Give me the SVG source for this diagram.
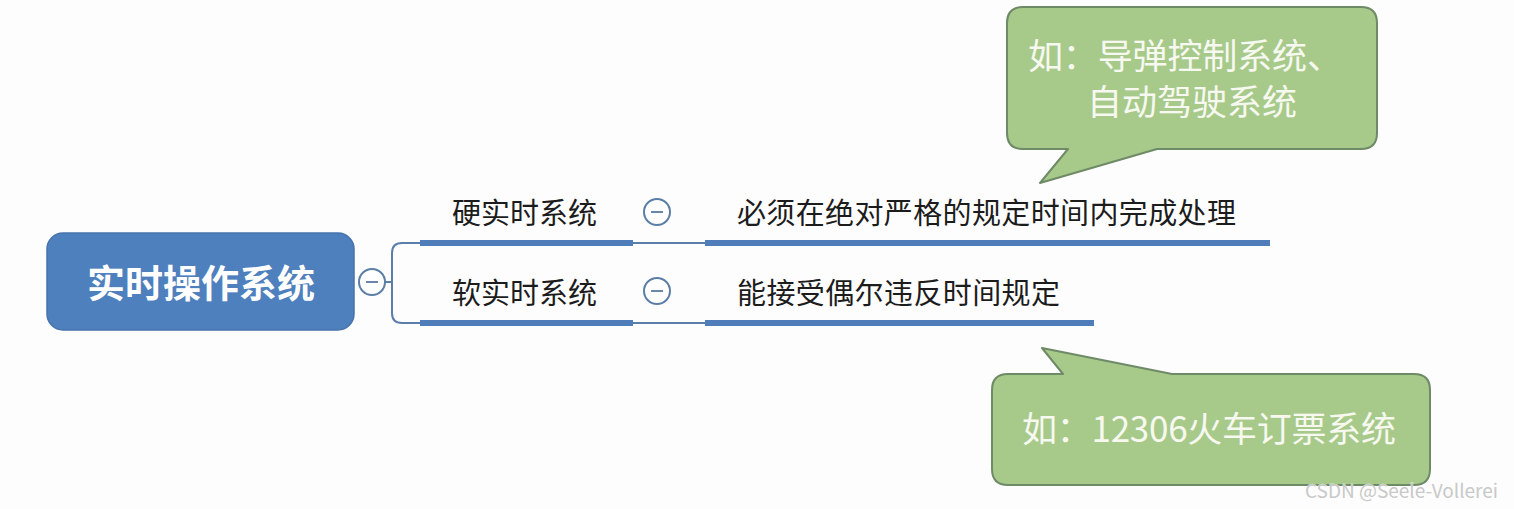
<svg xmlns="http://www.w3.org/2000/svg" width="1514" height="509" viewBox="0 0 1514 509">
<style>
.cjk{font-family:"Noto Sans CJK SC","Liberation Sans",sans-serif}
.branch{font-size:29px;fill:#1c1c1c}
.callout{fill:#A7CA8B;stroke:#6E8A66;stroke-width:2;stroke-linejoin:round}
.ctext{font-size:35px;fill:#F7F9F0}
.thick{stroke:#4F7DB9;stroke-width:6;fill:none}
.thin{stroke:#5A7DAA;stroke-width:2;fill:none}
.toggle circle{fill:#fff;stroke:#5B7EA6;stroke-width:2}
.toggle line{stroke:#6A86A8;stroke-width:2}
</style>
<rect width="1514" height="509" fill="#fdfdfd"/>
<g id="connectors">
<path class="thin" d="M385 282 H392 M392 282 V253 Q392 243 402 243 H420 M392 282 V313 Q392 323 402 323 H420"/>
<line class="thin" x1="633" y1="243" x2="705" y2="243"/>
<line class="thin" x1="633" y1="323" x2="705" y2="323"/>
</g>
<g id="root">
<rect x="47" y="233" width="307" height="97" rx="16" fill="#4F80BE" stroke="#4673AD" stroke-width="1.5"/>
<text class="cjk" x="201" y="297" text-anchor="middle" font-size="38" font-weight="bold" fill="#fff">实时操作系统</text>
<g class="toggle"><circle cx="372" cy="282" r="13"/><line x1="366" y1="282" x2="378" y2="282"/></g>
</g>
<g id="hard">
<text class="cjk branch" x="452" y="224">硬实时系统</text>
<line class="thick" x1="420" y1="243" x2="633" y2="243"/>
<g class="toggle"><circle cx="657" cy="212" r="13"/><line x1="651" y1="212" x2="663" y2="212"/></g>
</g>
<g id="hard-desc">
<text class="cjk branch" x="737" y="224" textLength="499" lengthAdjust="spacing">必须在绝对严格的规定时间内完成处理</text>
<line class="thick" x1="705" y1="243" x2="1270" y2="243"/>
</g>
<g id="soft">
<text class="cjk branch" x="452" y="304">软实时系统</text>
<line class="thick" x1="420" y1="323" x2="633" y2="323"/>
<g class="toggle"><circle cx="657" cy="291" r="13"/><line x1="651" y1="291" x2="663" y2="291"/></g>
</g>
<g id="soft-desc">
<text class="cjk branch" x="737" y="304" textLength="323" lengthAdjust="spacing">能接受偶尔违反时间规定</text>
<line class="thick" x1="705" y1="323" x2="1094" y2="323"/>
</g>
<g id="callout-hard">
<path class="callout" d="M1023 7 H1361 Q1377 7 1377 23 V133 Q1377 149 1361 149 H1157 L1040 183 L1068 149 H1023 Q1007 149 1007 133 V23 Q1007 7 1023 7 Z"/>
<text class="cjk ctext" x="1028" y="69" font-size="32" textLength="314" lengthAdjust="spacing">如：导弹控制系统、</text>
<text class="cjk ctext" x="1087" y="115" font-size="32" textLength="210" lengthAdjust="spacing">自动驾驶系统</text>
</g>
<g id="callout-soft">
<path class="callout" d="M1042 348 L1172 374 H1414 Q1430 374 1430 390 V469 Q1430 485 1414 485 H1008 Q992 485 992 469 V390 Q992 374 1008 374 H1063 Z"/>
<text class="cjk ctext" x="1022" y="442" textLength="374" lengthAdjust="spacing">如：12306火车订票系统</text>
</g>
<text class="cjk" x="1305" y="498" font-size="19" fill="#c9c9c9" stroke="#ffffff" stroke-width="0.5" paint-order="stroke">CSDN @Seele-Vollerei</text>
</svg>
